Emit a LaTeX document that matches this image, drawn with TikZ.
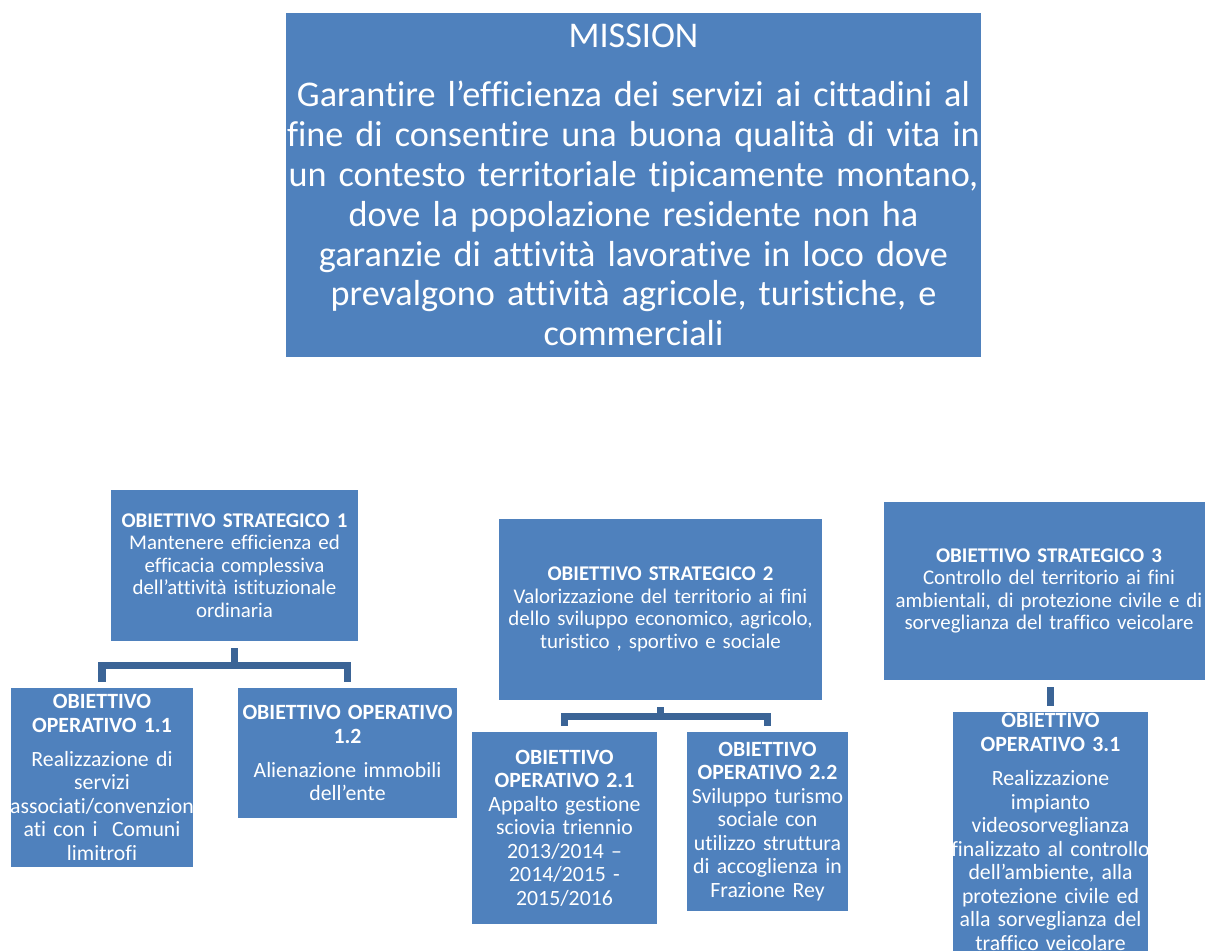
\documentclass[tikz,border=0pt]{standalone}
\usepackage{fontspec}
\setmainfont{Carlito}[Ligatures={NoCommon,TeX}]
\usetikzlibrary{calc}

\begin{document}
\begin{tikzpicture}[x=0.02cm,y=-0.02cm,
  box/.style={fill=boxblue,text=white,align=center,inner xsep=0pt,inner ysep=0pt},
  strat/.style={box,font=\fontsize{11.9}{12.8}\selectfont},
  oper/.style={box,font=\fontsize{12.4}{13.4}\selectfont},
  link/.style={draw=linkblue,line width=4pt,shorten <=4pt,shorten >=3.5pt}]
  \definecolor{boxblue}{HTML}{4F81BD}
  \definecolor{linkblue}{HTML}{3B6496}

  \useasboundingbox (0,0) rectangle (1205,951);

  \node [box,text width=13.9cm,minimum height=6.88cm,font=\fontsize{20.6}{22.7}\selectfont]
    (mission) at (633.5,185) {MISSION\\[11pt]
    Garantire l’efficienza dei servizi ai cittadini al\\
    fine di consentire una buona qualità di vita in\\
    un contesto territoriale tipicamente montano,\\
    dove la popolazione residente non ha\\
    garanzie di attività lavorative in loco dove\\
    prevalgono attività agricole, turistiche, e\\
    commerciali};

  \node [strat,text width=4.94cm,minimum height=3.02cm] (s1) at (234.5,565.5)
    {{\bfseries OBIETTIVO STRATEGICO 1}\\Mantenere efficienza ed\\efficacia complessiva\\dell’attività istituzionale\\ordinaria};
  \node [strat,text width=6.46cm,minimum height=3.62cm] (s2) at (660.5,609.5)
    {{\bfseries OBIETTIVO STRATEGICO 2}\\Valorizzazione del territorio ai fini\\dello sviluppo economico, agricolo,\\turistico , sportivo e sociale};
  \node [strat,text width=6.6cm,minimum height=3.56cm] (s3) at (1049,591)
    {{\bfseries OBIETTIVO STRATEGICO 3}\\Controllo del territorio ai fini\\\makebox[\linewidth]{ambientali, di protezione civile e di}\\sorveglianza del traffico veicolare};

  \node [oper,text width=3.64cm,minimum height=3.58cm] (o11) at (102,777.5)
    {{\bfseries OBIETTIVO\\OPERATIVO 1.1}\\[6pt]Realizzazione di\\servizi\\\makebox[\linewidth]{associati/convenzion}\\ati con i\ \ Comuni\\limitrofi};
  \node [oper,text width=4.38cm,minimum height=2.6cm] (o12) at (347.5,753)
    {{\bfseries OBIETTIVO OPERATIVO\\1.2}\\[6pt]Alienazione immobili\\dell'ente};
  \node [oper,text width=3.7cm,minimum height=3.84cm] (o21) at (564.5,828)
    {{\bfseries OBIETTIVO\\OPERATIVO 2.1}\\Appalto gestione\\sciovia triennio\\2013/2014 –\\2014/2015 -\\2015/2016};
  \node [oper,text width=3.22cm,minimum height=3.58cm] (o22) at (767.5,821.5)
    {{\bfseries OBIETTIVO\\OPERATIVO 2.2}\\Sviluppo turismo\\sociale con\\\makebox[\linewidth]{utilizzo struttura}\\\makebox[\linewidth]{di accoglienza in}\\Frazione Rey};
  \node [oper,text width=3.9cm,minimum height=4.8cm] (o31) at (1050.5,832)
    {{\bfseries OBIETTIVO\\OPERATIVO 3.1}\\[6pt]Realizzazione\\impianto\\videosorveglianza\\\makebox[\linewidth]{finalizzato al controllo}\\dell’ambiente, alla\\protezione civile ed\\\makebox[\linewidth]{alla sorveglianza del}\\traffico veicolare};

  \foreach \c in {o11,o12}
    \draw [link] (s1.south) -- ++(0,24) -| (\c.north);
  \foreach \c in {o21,o22}
    \draw [link] (s2.south) -- ++(0,16) -| (\c.north);
  \draw [link] (o31.north |- s3.south) -- (o31.north);
\end{tikzpicture}
\end{document}
